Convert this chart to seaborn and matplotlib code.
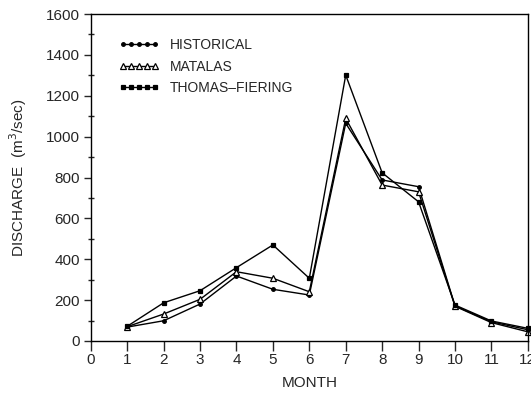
import matplotlib
matplotlib.use("Agg")
import matplotlib.pyplot as plt
import seaborn as sns
import pandas as pd
from matplotlib.ticker import MultipleLocator

months = [1, 2, 3, 4, 5, 6, 7, 8, 9, 10, 11, 12]
historical = [68, 99, 181, 318, 253, 225, 1065, 788, 755, 172, 94, 55]
matalas = [70, 132, 204, 339, 307, 241, 1089, 763, 730, 170, 90, 45]
thomas_fiering = [72, 187, 246, 359, 470, 307, 1301, 823, 681, 176, 98, 62]
series_names = ["HISTORICAL", "MATALAS", "THOMAS\u2013FIERING"]

df = pd.concat([
    pd.DataFrame({"MONTH": months, "Q": historical, "series": series_names[0]}),
    pd.DataFrame({"MONTH": months, "Q": matalas, "series": series_names[1]}),
    pd.DataFrame({"MONTH": months, "Q": thomas_fiering, "series": series_names[2]}),
])

sns.set_style("ticks")
plt.rcParams["font.family"] = ["Liberation Sans", "DejaVu Sans"]

fig = plt.figure(figsize=(5.31, 4.0), dpi=100)
ax = fig.add_axes([0.171, 0.1475, 0.823, 0.8175])

markers = {series_names[0]: "o", series_names[1]: "^", series_names[2]: "s"}
sizes = {series_names[0]: 2.6, series_names[1]: 5, series_names[2]: 3}
sns.lineplot(data=df, x="MONTH", y="Q", hue="series", style="series",
             palette=["black"] * 3, markers=markers, dashes=False,
             linewidth=1.0, ax=ax, legend=False, clip_on=False)

for line, name in zip(ax.get_lines(), series_names):
    line.set_markersize(sizes[name])
    line.set_markeredgecolor("black")
    line.set_markeredgewidth(0.9)
    if name == series_names[1]:
        line.set_markerfacecolor("white")
    line.set_clip_on(False)
    line.set_label(name)

ax.set_xlim(0, 12)
ax.set_ylim(0, 1600)
ax.xaxis.set_major_locator(MultipleLocator(1))
ax.yaxis.set_major_locator(MultipleLocator(200))
ax.yaxis.set_minor_locator(MultipleLocator(100))
ax.tick_params(axis="x", which="major", direction="out", length=7, width=1, labelsize=11, pad=2)
ax.tick_params(axis="y", which="major", direction="out", length=5, width=1, labelsize=11, pad=3)
ax.tick_params(axis="y", which="minor", direction="inout", length=5, width=1)
for s in ax.spines.values():
    s.set_visible(True)
    s.set_linewidth(1.0)
    s.set_color("black")

ax.set_xlabel("MONTH", fontsize=11, labelpad=6)
ax.set_ylabel("DISCHARGE  (m$^3$/sec)", fontsize=11, labelpad=12)

ax.legend(handles=ax.get_lines(), labels=series_names, loc="upper left",
          bbox_to_anchor=(0.035, 0.965), frameon=False, numpoints=5,
          handlelength=2.9, fontsize=10, labelspacing=0.55, handletextpad=0.8)

fig.savefig("out.png", dpi=100)
